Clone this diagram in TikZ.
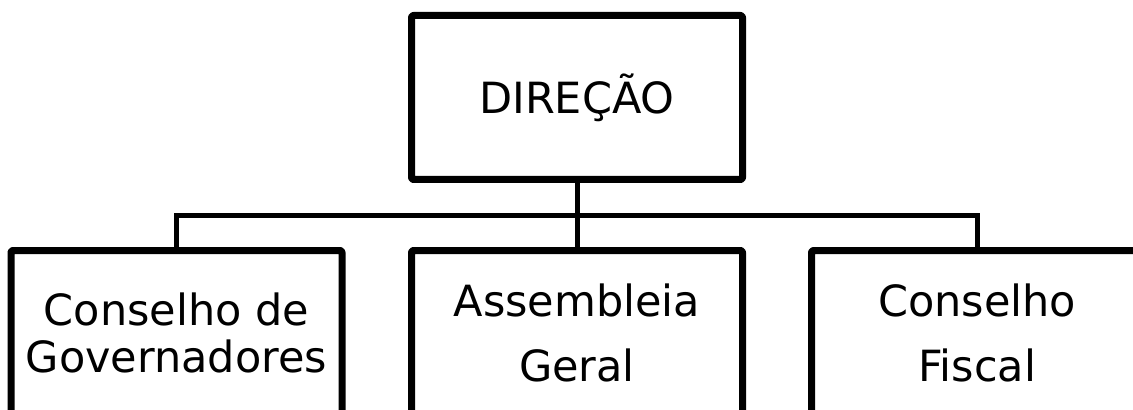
\documentclass[tikz,border=0pt]{standalone}
\usepackage{fontspec}
\setmainfont{DejaVu Sans}
\begin{document}
\begin{tikzpicture}[x=0.75pt,y=-0.75pt,
  orgbox/.style={draw=black, line width=5.25pt, line join=round, rounded corners=1.5pt,
    minimum width=248.25pt, minimum height=123pt, inner sep=0pt, align=center,
    font=\fontsize{32.25pt}{48.75pt}\selectfont},
  conn/.style={draw=black, line width=3.75pt}]
\clip (0,0) rectangle (1133,410);
\node[orgbox] (top) at (577,97.5) {DIREÇÃO};
\node[orgbox, font=\fontsize{32.25pt}{35.25pt}\selectfont] (left) at (176.5,332.5) {Conselho de\\Governadores};
\node[orgbox] (mid) at (577,332.5) {Assembleia\\Geral};
\node[orgbox] (right) at (977,332.5) {Conselho\\Fiscal};
\coordinate (bus) at (577,215);
\draw[conn] (top.south) -- (mid.north);
\draw[conn] (left.north) |- (bus) -| (right.north);
\end{tikzpicture}
\end{document}
